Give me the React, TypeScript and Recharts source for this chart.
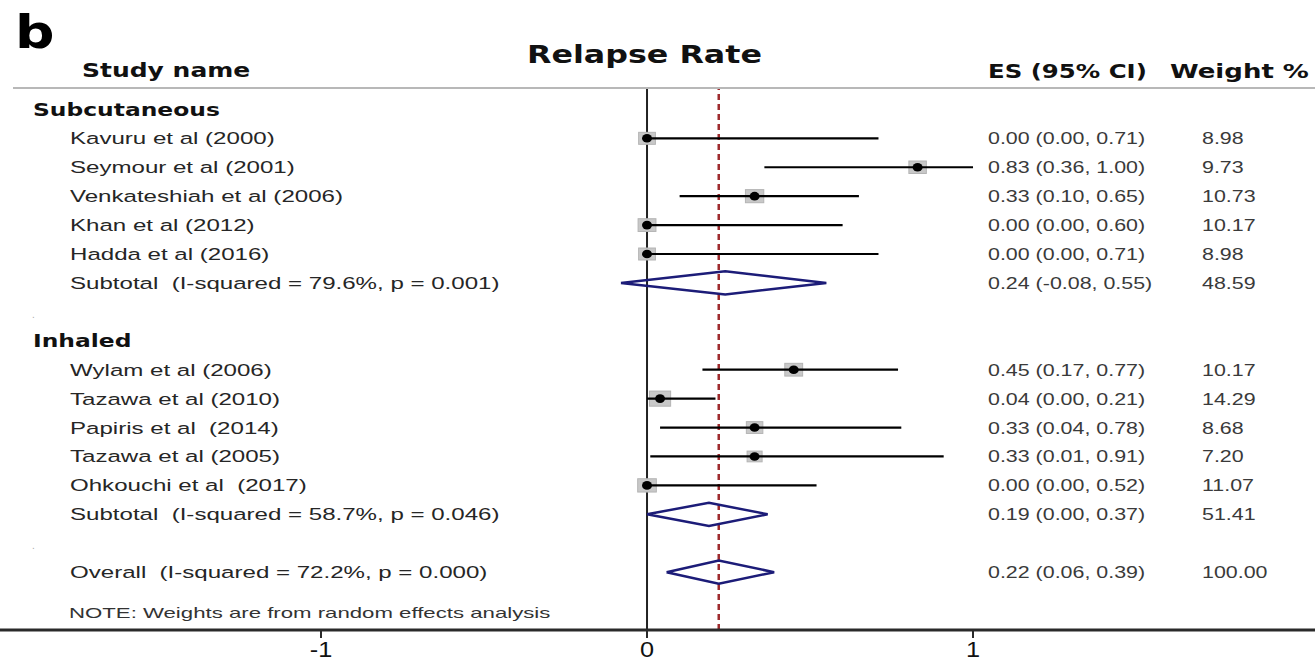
import React from 'react';
import { ComposedChart, XAxis, YAxis, Scatter, ReferenceLine } from 'recharts';

// ---------- data ----------
const groupNames = ['Subcutaneous', 'Inhaled'];

const subcutNames = [
  'Kavuru et al (2000)',
  'Seymour et al (2001)',
  'Venkateshiah et al (2006)',
  'Khan et al (2012)',
  'Hadda et al (2016)',
];
const subcutES = [0.0, 0.83, 0.33, 0.0, 0.0];
const subcutLo = [0.0, 0.36, 0.1, 0.0, 0.0];
const subcutHi = [0.71, 1.0, 0.65, 0.6, 0.71];
const subcutWeight = [8.98, 9.73, 10.73, 10.17, 8.98];

const inhaledNames = [
  'Wylam et al (2006)',
  'Tazawa et al (2010)',
  'Papiris et al  (2014)',
  'Tazawa et al (2005)',
  'Ohkouchi et al  (2017)',
];
const inhaledES = [0.45, 0.04, 0.33, 0.33, 0.0];
const inhaledLo = [0.17, 0.0, 0.04, 0.01, 0.0];
const inhaledHi = [0.77, 0.21, 0.78, 0.91, 0.52];
const inhaledWeight = [10.17, 14.29, 8.68, 7.2, 11.07];

const pooledLabels = [
  'Subtotal  (I-squared = 79.6%, p = 0.001)',
  'Subtotal  (I-squared = 58.7%, p = 0.046)',
  'Overall  (I-squared = 72.2%, p = 0.000)',
];
const pooledES = [0.24, 0.19, 0.22];
const pooledLo = [-0.08, 0.0, 0.06];
const pooledHi = [0.55, 0.37, 0.39];
const pooledWeight = [48.59, 51.41, 100.0];

const noteText = 'NOTE: Weights are from random effects analysis';
const xTicks = [-1, 0, 1];
const titleText = 'Relapse Rate';
const panelLetter = 'b';
const headerStudy = 'Study name';
const headerES = 'ES (95% CI)';
const headerWeight = 'Weight %';

// ---------- rows ----------
type Row = {
  r: number;
  kind: 'group' | 'study' | 'pooled' | 'sep' | 'note';
  label: string;
  es?: number;
  lo?: number;
  hi?: number;
  w?: number;
};

const rows: Row[] = [];
let rr = 0;
const groupsData = [
  { name: groupNames[0], names: subcutNames, es: subcutES, lo: subcutLo, hi: subcutHi, w: subcutWeight },
  { name: groupNames[1], names: inhaledNames, es: inhaledES, lo: inhaledLo, hi: inhaledHi, w: inhaledWeight },
];
groupsData.forEach((g, gi) => {
  rows.push({ r: rr++, kind: 'group', label: g.name });
  g.names.forEach((n, i) => {
    rows.push({ r: rr++, kind: 'study', label: n, es: g.es[i], lo: g.lo[i], hi: g.hi[i], w: g.w[i] });
  });
  rows.push({ r: rr++, kind: 'pooled', label: pooledLabels[gi], es: pooledES[gi], lo: pooledLo[gi], hi: pooledHi[gi], w: pooledWeight[gi] });
  rows.push({ r: rr++, kind: 'sep', label: '.' });
});
rows.push({ r: rr++, kind: 'pooled', label: pooledLabels[2], es: pooledES[2], lo: pooledLo[2], hi: pooledHi[2], w: pooledWeight[2] });
rows.push({ r: rr + 0.4, kind: 'note', label: noteText });

const studyRows = rows.filter((r) => r.kind === 'study');
const pooledRows = rows.filter((r) => r.kind === 'pooled');
const studyPoints = studyRows.map((r) => ({ x: r.es, y: r.r, w: r.w }));
const labelPoints = rows.map((r) => ({ x: 0, y: r.r, row: r }));
const overallES = pooledES[2];

// ---------- layout constants ----------
const W = 1315;
const H = 664;
const X_DOMAIN: [number, number] = [-1.9847, 2.049];
const Y_DOMAIN: [number, number] = [-0.74, 18];
const COL_GROUP = 33;
const COL_NAME = 70;
const COL_ES = 988;
const COL_W = 1202;
const ARIAL = '"Liberation Sans", Arial, sans-serif';
const BOLD = '"DejaVu Sans", Verdana, sans-serif';

const fmt = (v?: number) => (v === undefined ? '' : v.toFixed(2));

const STxt = (p: {
  x: number;
  y: number;
  sx: number;
  size: number;
  bold?: boolean;
  font?: string;
  fill?: string;
  anchor?: 'start' | 'middle' | 'end';
  children: React.ReactNode;
}) => (
  <text
    transform={`translate(${p.x},${p.y}) scale(${p.sx},1)`}
    x={0}
    y={0}
    fontFamily={p.font || ARIAL}
    fontSize={p.size}
    fontWeight={p.bold ? 700 : 400}
    fill={p.fill || '#333'}
    textAnchor={p.anchor || 'start'}
    style={{ whiteSpace: 'pre' }}
  >
    {p.children}
  </text>
);

const RowLabelShape = (props: any) => {
  const { cy, payload } = props;
  const row: Row = payload.row;
  const y = cy;
  if (row.kind === 'group') {
    return (
      <STxt x={COL_GROUP} y={y + 6.5} sx={1.3} size={18} bold font={BOLD} fill="#111">
        {row.label}
      </STxt>
    );
  }
  if (row.kind === 'sep') {
    return (
      <STxt x={COL_GROUP - 1} y={y + 6} sx={1} size={10} fill="#aaa">
        {row.label}
      </STxt>
    );
  }
  if (row.kind === 'note') {
    return (
      <STxt x={69} y={y + 5.5} sx={1.48} size={15} fill="#333">
        {row.label}
      </STxt>
    );
  }
  return (
    <g>
      <STxt x={COL_NAME} y={y + 6} sx={1.46} size={16.5} fill="#262626">
        {row.label}
      </STxt>
      <STxt x={COL_ES} y={y + 6} sx={1.26} size={17} fill="#3a3a3a">
        {`${fmt(row.es)} (${fmt(row.lo)}, ${fmt(row.hi)})`}
      </STxt>
      <STxt x={COL_W} y={y + 6} sx={1.26} size={17} fill="#3a3a3a">
        {fmt(row.w)}
      </STxt>
    </g>
  );
};

const XTick = (props: any) => {
  const { x, y, payload } = props;
  return (
    <STxt x={x} y={y + 17} sx={1.15} size={22} fill="#111" anchor="middle">
      {payload.value}
    </STxt>
  );
};

const BoxShape = (props: any) => {
  const { cx, cy, payload } = props;
  const h = 4.0 * Math.sqrt(payload.w);
  const w = 1.4 * h;
  return <rect x={cx - w / 2} y={cy - h / 2} width={w} height={h} fill="#c8c8c8" stroke="#b4b4b4" strokeWidth={1} />;
};

const DotShape = (props: any) => {
  const { cx, cy } = props;
  return <ellipse cx={cx} cy={cy} rx={5} ry={4.3} fill="#000" />;
};

const NoShape = () => <g />;

export default function App() {
  return (
    <div style={{ position: 'absolute', left: 0, top: 0, width: W, height: H, background: '#fff' }}>
      <ComposedChart width={W} height={H} margin={{ top: 88, right: 0, bottom: 0, left: 0 }}>
        <XAxis
          type="number"
          dataKey="x"
          domain={X_DOMAIN}
          allowDataOverflow
          ticks={xTicks}
          height={34}
          tickSize={8}
          axisLine={{ stroke: '#2a2a2a', strokeWidth: 3 }}
          tickLine={{ stroke: '#2a2a2a', strokeWidth: 2 }}
          tick={<XTick />}
          interval={0}
        />
        <YAxis type="number" dataKey="y" domain={Y_DOMAIN} allowDataOverflow reversed hide />
        <ReferenceLine x={0} stroke="#222" strokeWidth={2} />
        <ReferenceLine x={overallES} stroke="#9e2b2e" strokeWidth={2.5} strokeDasharray="6 4" />
        <Scatter data={labelPoints} shape={<RowLabelShape />} isAnimationActive={false} />
        <Scatter data={studyPoints} shape={<BoxShape />} isAnimationActive={false} />
        {studyRows.map((r, i) => (
          <Scatter
            key={`ci${i}`}
            data={[
              { x: r.lo, y: r.r },
              { x: r.hi, y: r.r },
            ]}
            line={{ stroke: '#000', strokeWidth: 2.2 }}
            lineType="joint"
            shape={<NoShape />}
            isAnimationActive={false}
          />
        ))}
        <Scatter data={studyPoints} shape={<DotShape />} isAnimationActive={false} />
        {pooledRows.map((r, i) => (
          <Scatter
            key={`dm${i}`}
            data={[
              { x: r.lo, y: r.r },
              { x: r.es, y: r.r - 0.4 },
              { x: r.hi, y: r.r },
              { x: r.es, y: r.r + 0.4 },
              { x: r.lo, y: r.r },
            ]}
            line={{ stroke: '#1c1c78', strokeWidth: 2.5, strokeLinejoin: 'miter' }}
            lineType="joint"
            shape={<NoShape />}
            isAnimationActive={false}
          />
        ))}
      </ComposedChart>
      <svg
        width={W}
        height={H}
        style={{ position: 'absolute', left: 0, top: 0, pointerEvents: 'none' }}
      >
        <line x1={13} y1={88} x2={W} y2={88} stroke="#b8b8b8" strokeWidth={2} />
        <STxt x={15} y={48} sx={1.2} size={46} bold font={BOLD} fill="#000">
          {panelLetter}
        </STxt>
        <STxt x={527} y={63} sx={1.27} size={25} bold font={BOLD} fill="#111">
          {titleText}
        </STxt>
        <STxt x={82} y={77} sx={1.25} size={20} bold font={BOLD} fill="#111">
          {headerStudy}
        </STxt>
        <STxt x={988} y={78} sx={1.22} size={20} bold font={BOLD} fill="#111">
          {headerES}
        </STxt>
        <STxt x={1170} y={78} sx={1.3} size={20} bold font={BOLD} fill="#111">
          {headerWeight}
        </STxt>
      </svg>
    </div>
  );
}
